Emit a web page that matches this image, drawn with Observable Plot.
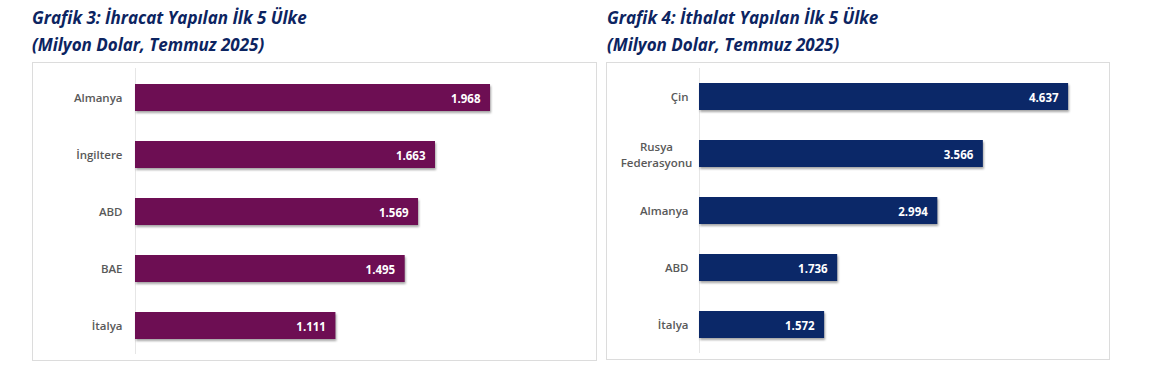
<!DOCTYPE html>
<html>
<head>
<meta charset="utf-8">
<script src="https://cdn.jsdelivr.net/npm/d3@7"></script>
<script src="https://cdn.jsdelivr.net/npm/@observablehq/plot@0.6"></script>
<style>
  html, body { margin: 0; padding: 0; background: #fff; width: 1157px; height: 376px; overflow: hidden; }
  .title { position: absolute; font-family: "Open Sans", Lato, sans-serif; font-weight: 700; font-style: italic;
           font-size: 17px; color: #0c2461; line-height: 27px; white-space: nowrap; font-variant-ligatures: none; }
  .frame { position: absolute; border: 1px solid #dcdcdc; box-sizing: border-box; background: #fff; }
  .frame svg { display: block; }
  g[aria-label="bar"] rect { filter: drop-shadow(1.5px 2px 1.2px rgba(0,0,0,0.35)); }
</style>
</head>
<body>
<div class="title" id="t1" style="left:32px; top:4px;">Grafik 3: İhracat Yapılan İlk 5 Ülke<br>(Milyon Dolar, Temmuz 2025)</div>
<div class="title" id="t2" style="left:607px; top:4px;">Grafik 4: İthalat Yapılan İlk 5 Ülke<br>(Milyon Dolar, Temmuz 2025)</div>
<div class="frame" id="f1" style="left:32px; top:62px; width:565px; height:299px;"></div>
<div class="frame" id="f2" style="left:606px; top:62px; width:504px; height:298px;"></div>
<script>
// ---- data ----
const exportCountries = ["Almanya", "İngiltere", "ABD", "BAE", "İtalya"];
const exportValues = [1968, 1663, 1569, 1495, 1111];
const importCountries = ["Çin", "Rusya\nFederasyonu", "Almanya", "ABD", "İtalya"];
const importValues = [4637, 3566, 2994, 1736, 1572];
const exportMax = 2500;
const importMax = 5000;

const trFormat = d3.formatLocale({decimal: ",", thousands: ".", grouping: [3], currency: ["", ""]}).format(",");

function chart(countries, values, color, width, height, xMax, mLeft, mRight, labelGap) {
  const data = countries.map((c, i) => ({country: c, value: values[i]}));
  const single = data.filter(d => !d.country.includes("\n"));
  const multi = data.filter(d => d.country.includes("\n"));
  return Plot.plot({
    width, height,
    marginLeft: mLeft, marginRight: mRight, marginTop: 5, marginBottom: 6,
    style: {fontFamily: "'Open Sans', sans-serif", background: "transparent"},
    x: {domain: [0, xMax], axis: null},
    y: {domain: countries, axis: null, paddingInner: 0.53, paddingOuter: 0.265},
    marks: [
      Plot.ruleX([0], {stroke: "#e6e6e6", strokeWidth: 1}),
      Plot.barX(data, {y: "country", x: "value", fill: color}),
      Plot.text(data, {y: "country", x: "value", text: d => trFormat(d.value), textAnchor: "end", dx: -10, dy: 1,
        fill: "white", fontWeight: 700, fontSize: 11.5}),
      Plot.text(single, {y: "country", frameAnchor: "left", text: "country", textAnchor: "end", dx: -labelGap,
        fill: "#595959", fontWeight: 600, fontSize: 11.5}),
      Plot.text(multi, {y: "country", frameAnchor: "left", text: "country", textAnchor: "middle", dx: -labelGap - 32,
        fill: "#595959", fontWeight: 600, fontSize: 11.5, lineHeight: 1.35})
    ]
  });
}

document.getElementById("f1").append(chart(exportCountries, exportValues, "#6d0e53", 563, 297, exportMax, 102, 10, 13));
document.getElementById("f2").append(chart(importCountries, importValues, "#0b2868", 502, 296, importMax, 92, 12, 11));
</script>
</body>
</html>
